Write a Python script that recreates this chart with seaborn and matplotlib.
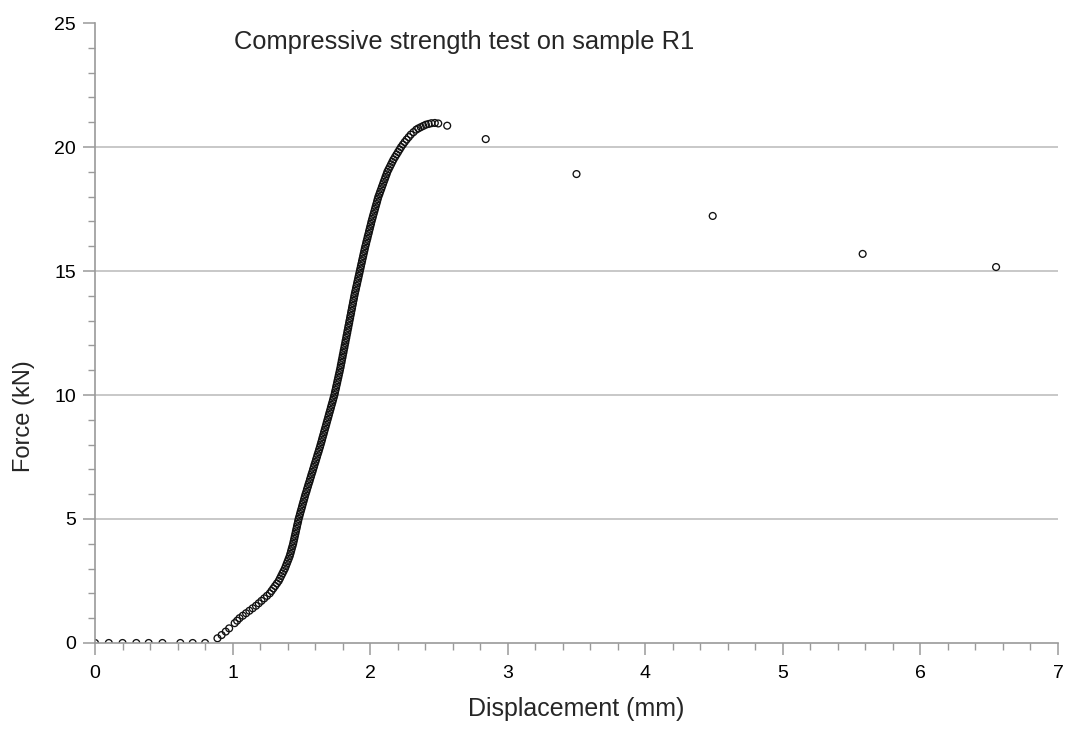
import pandas as pd
import numpy as np
import matplotlib
matplotlib.use('Agg')
import matplotlib.pyplot as plt
from matplotlib.ticker import MultipleLocator
import seaborn as sns

# Flat start (no load yet)
flat_x = [0.0, 0.10, 0.20, 0.30, 0.39, 0.49, 0.62, 0.71, 0.80]
flat_y = [0.0, 0.0, 0.0, 0.0, 0.0, 0.0, 0.0, 0.0, 0.0]

# First contact points
toe_x = [0.89, 0.92, 0.95, 0.975]
toe_y = [0.19, 0.32, 0.46, 0.59]

# Loading curve (dense readings), displacement in mm
curve_x = [1.015, 1.033, 1.050, 1.074, 1.098, 1.122, 1.146, 1.170, 1.190, 1.210,
           1.230, 1.250, 1.270, 1.283, 1.296, 1.309, 1.322, 1.335, 1.344, 1.353,
           1.362, 1.371, 1.380, 1.387, 1.394, 1.401, 1.408, 1.415, 1.420, 1.425,
           1.430, 1.435, 1.440, 1.444, 1.448, 1.452, 1.456, 1.460, 1.464, 1.468,
           1.472, 1.476, 1.480, 1.485, 1.490, 1.495, 1.500, 1.505, 1.510, 1.515,
           1.520, 1.525, 1.530, 1.536, 1.541, 1.547, 1.552, 1.558, 1.563, 1.569,
           1.574, 1.580, 1.585, 1.591, 1.596, 1.602, 1.607, 1.613, 1.618, 1.624,
           1.629, 1.635, 1.640, 1.645, 1.650, 1.655, 1.660, 1.665, 1.670, 1.675,
           1.680, 1.685, 1.690, 1.695, 1.700, 1.705, 1.710, 1.715, 1.720, 1.725,
           1.730, 1.735, 1.740, 1.744, 1.748, 1.752, 1.756, 1.760, 1.764, 1.768,
           1.772, 1.776, 1.780, 1.784, 1.787, 1.791, 1.794, 1.798, 1.801, 1.805,
           1.808, 1.812, 1.815, 1.819, 1.822, 1.826, 1.829, 1.833, 1.836, 1.840,
           1.843, 1.847, 1.850, 1.854, 1.857, 1.861, 1.864, 1.868, 1.871, 1.875,
           1.878, 1.882, 1.885, 1.889, 1.893, 1.897, 1.901, 1.905, 1.909, 1.913,
           1.917, 1.921, 1.925, 1.929, 1.933, 1.937, 1.941, 1.945, 1.949, 1.953,
           1.957, 1.961, 1.965, 1.970, 1.974, 1.979, 1.983, 1.988, 1.992, 1.997,
           2.001, 2.006, 2.010, 2.015, 2.020, 2.025, 2.030, 2.035, 2.040, 2.045,
           2.050, 2.055, 2.060, 2.067, 2.073, 2.080, 2.086, 2.093, 2.099, 2.106,
           2.112, 2.119, 2.125, 2.134, 2.143, 2.152, 2.161, 2.170, 2.181, 2.192,
           2.203, 2.214, 2.225, 2.238, 2.251, 2.265, 2.280, 2.295, 2.315, 2.335,
           2.350, 2.368, 2.386, 2.405, 2.425, 2.445, 2.470, 2.495]
curve_y = [0.8, 0.9, 1.0, 1.1, 1.2, 1.3, 1.4, 1.5, 1.6, 1.7,
           1.8, 1.9, 2.0, 2.1, 2.2, 2.3, 2.4, 2.5, 2.6, 2.7,
           2.8, 2.9, 3.0, 3.1, 3.2, 3.3, 3.4, 3.5, 3.6, 3.7,
           3.8, 3.9, 4.0, 4.1, 4.2, 4.3, 4.4, 4.5, 4.6, 4.7,
           4.8, 4.9, 5.0, 5.1, 5.2, 5.3, 5.4, 5.5, 5.6, 5.7,
           5.8, 5.9, 6.0, 6.1, 6.2, 6.3, 6.4, 6.5, 6.6, 6.7,
           6.8, 6.9, 7.0, 7.1, 7.2, 7.3, 7.4, 7.5, 7.6, 7.7,
           7.8, 7.9, 8.0, 8.1, 8.2, 8.3, 8.4, 8.5, 8.6, 8.7,
           8.8, 8.9, 9.0, 9.1, 9.2, 9.3, 9.4, 9.5, 9.6, 9.7,
           9.8, 9.9, 10.0, 10.1, 10.2, 10.3, 10.4, 10.5, 10.6, 10.7,
           10.8, 10.9, 11.0, 11.1, 11.2, 11.3, 11.4, 11.5, 11.6, 11.7,
           11.8, 11.9, 12.0, 12.1, 12.2, 12.3, 12.4, 12.5, 12.6, 12.7,
           12.8, 12.9, 13.0, 13.1, 13.2, 13.3, 13.4, 13.5, 13.6, 13.7,
           13.8, 13.9, 14.0, 14.1, 14.2, 14.3, 14.4, 14.5, 14.6, 14.7,
           14.8, 14.9, 15.0, 15.1, 15.2, 15.3, 15.4, 15.5, 15.6, 15.7,
           15.8, 15.9, 16.0, 16.1, 16.2, 16.3, 16.4, 16.5, 16.6, 16.7,
           16.8, 16.9, 17.0, 17.1, 17.2, 17.3, 17.4, 17.5, 17.6, 17.7,
           17.8, 17.9, 18.0, 18.1, 18.2, 18.3, 18.4, 18.5, 18.6, 18.7,
           18.8, 18.9, 19.0, 19.1, 19.2, 19.3, 19.4, 19.5, 19.6, 19.7,
           19.8, 19.9, 20.0, 20.1, 20.2, 20.3, 20.4, 20.5, 20.6, 20.7,
           20.75, 20.8, 20.85, 20.9, 20.93, 20.96, 20.97, 20.95]

# Post-peak readings
tail_x = [2.56, 2.84, 3.50, 4.49, 5.58, 6.55]
tail_y = [20.86, 20.32, 18.91, 17.22, 15.69, 15.16]

grid_levels = [5, 10, 15, 20]

df = pd.DataFrame({
    'disp': flat_x + toe_x + curve_x + tail_x,
    'force': flat_y + toe_y + curve_y + tail_y,
})

sns.set_theme(style='white')
plt.rcParams['font.family'] = ['Liberation Sans', 'DejaVu Sans']

fig = plt.figure(figsize=(10.69, 7.31), dpi=100)
ax = fig.add_axes([0.0889, 0.1204, 0.9008, 0.8481])

# horizontal grid lines behind the points
for lvl in grid_levels:
    ax.axhline(lvl, color='#c4c4c4', linewidth=1.3, zorder=0)

sns.scatterplot(data=df, x='disp', y='force', ax=ax, marker='o', s=24,
                facecolor='none', edgecolor='#111111', linewidth=0.95,
                legend=False, zorder=2)

ax.set_xlim(0, 7)
ax.set_ylim(0, 25)
ax.xaxis.set_major_locator(MultipleLocator(1))
ax.xaxis.set_minor_locator(MultipleLocator(0.2))
ax.yaxis.set_major_locator(MultipleLocator(5))
ax.yaxis.set_minor_locator(MultipleLocator(1))
ax.grid(False)

grey = '#9a9a9a'
for side in ['top', 'right']:
    ax.spines[side].set_visible(False)
for side in ['left', 'bottom']:
    ax.spines[side].set_color(grey)
    ax.spines[side].set_linewidth(1.2)

ax.tick_params(which='major', direction='out', length=8.6, width=1.1, color=grey,
               labelsize=14, labelcolor='black', left=True, bottom=True)
ax.tick_params(which='minor', direction='out', length=5, width=1.0, color=grey,
               left=True, bottom=True)
ax.tick_params(axis='y', which='major', pad=5)
ax.tick_params(axis='x', which='major', pad=7.2)

ax.set_xlabel('Displacement (mm)', fontsize=18)
ax.set_ylabel('Force (kN)', fontsize=17)
ax.xaxis.set_label_coords(0.5, -0.087)
ax.yaxis.set_label_coords(-0.062, 0.366)

ax.text(0.383, 0.969, 'Compressive strength test on sample R1', transform=ax.transAxes,
        ha='center', va='center', fontsize=18.4)

fig.savefig('out.png', dpi=100, facecolor='white')
